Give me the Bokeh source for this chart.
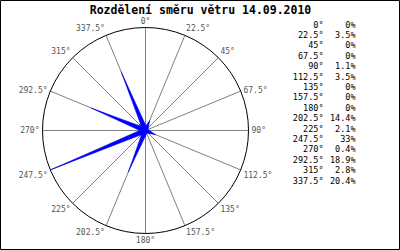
import math
from bokeh.plotting import figure
from bokeh.models import ColumnDataSource, Label
from bokeh.core.properties import value
from bokeh.embed import file_html
from bokeh.resources import INLINE

# ---- data ----
title_text = "Rozdělení směru větru 14.09.2010"
directions = [0, 22.5, 45, 67.5, 90, 112.5, 135, 157.5, 180, 202.5, 225, 247.5, 270, 292.5, 315, 337.5]
percents = [0, 3.5, 0, 0, 1.1, 3.5, 0, 0, 0, 14.4, 2.1, 33, 0.4, 18.9, 2.8, 20.4]

# ---- layout (pixel-like data units) ----
W, H = 400, 250
CX, CY = 145, 130          # center in screen px from top-left
R = 103                    # circle radius
FONT = "DejaVu Sans Mono"

p = figure(width=W, height=H, output_backend="svg", toolbar_location=None,
           x_range=(-CX, W - CX), y_range=(-(H - CY), CY),
           x_axis_location=None, y_axis_location=None, min_border=0,
           background_fill_color="white", border_fill_color="white")
p.grid.visible = False
p.outline_line_color = "black"
p.outline_line_width = 1

# spokes
sx0, sy0, sx1, sy1 = [], [], [], []
for a in directions:
    t = math.radians(a)
    sx0.append(0); sy0.append(0)
    sx1.append(R * math.sin(t)); sy1.append(R * math.cos(t))
p.segment(sx0, sy0, sx1, sy1, line_color="#808080", line_width=1)

# circle
p.circle([0], [0], radius=R, fill_color=None, line_color="black", line_width=1)

# spikes
mx = max(percents)
xs, ys = [], []
w = 2.4
for a, v in zip(directions, percents):
    if v <= 0:
        continue
    t = math.radians(a)
    r = v / mx * R
    ux, uy = math.sin(t), math.cos(t)
    vx, vy = math.cos(t), -math.sin(t)
    xs.append([r * ux, w * vx, -w * 0.5 * ux, -w * vx])
    ys.append([r * uy, w * vy, -w * 0.5 * uy, -w * vy])
p.patches(xs, ys, fill_color="#0000ff", line_color="#0000ff", line_width=0.5)

# angle labels around circle
lx, ly, lt, la, lb = [], [], [], [], []
for a in directions:
    t = math.radians(a)
    s, c = math.sin(t), math.cos(t)
    lx.append((R + 3) * s)
    ly.append((R + 2) * c)
    lt.append(f"{a:g}°")
    la.append("center" if abs(s) < 1e-6 else ("left" if s > 0 else "right"))
    lb.append("bottom" if c > 0.5 else ("top" if c < -0.3 else "middle"))
src = ColumnDataSource(dict(x=lx, y=ly, t=lt, a=la, b=lb))
p.text(x="x", y="y", text="t", text_align="a", text_baseline="b", source=src,
       text_font=value(FONT), text_font_size="8px", text_color="#555555")

# legend table on the right
row0, dy = 24, 10.4
ty, pt = [], []
for i, v in enumerate(percents):
    ty.append(CY - (row0 + dy * i))
    pt.append(f"{v:g}%")
lsrc = ColumnDataSource(dict(y=ty, at=[f"{a:g}°" for a in directions], pt=pt,
                             x1=[323 - CX] * len(ty), x2=[355 - CX] * len(ty)))
p.text(x="x1", y="y", text="at", source=lsrc, text_align="right", text_baseline="middle",
       text_font=value(FONT), text_font_size="8.5px", text_color="black")
p.text(x="x2", y="y", text="pt", source=lsrc, text_align="right", text_baseline="middle",
       text_font=value(FONT), text_font_size="8.5px", text_color="black")

# title
p.add_layout(Label(x=200, y=H - 9, x_units="screen", y_units="screen", text=title_text,
                   text_align="center", text_baseline="middle", text_font=FONT,
                   text_font_size="11.5px", text_font_style="bold", text_color="black"))

open("out.html", "w").write(file_html(p, INLINE))
